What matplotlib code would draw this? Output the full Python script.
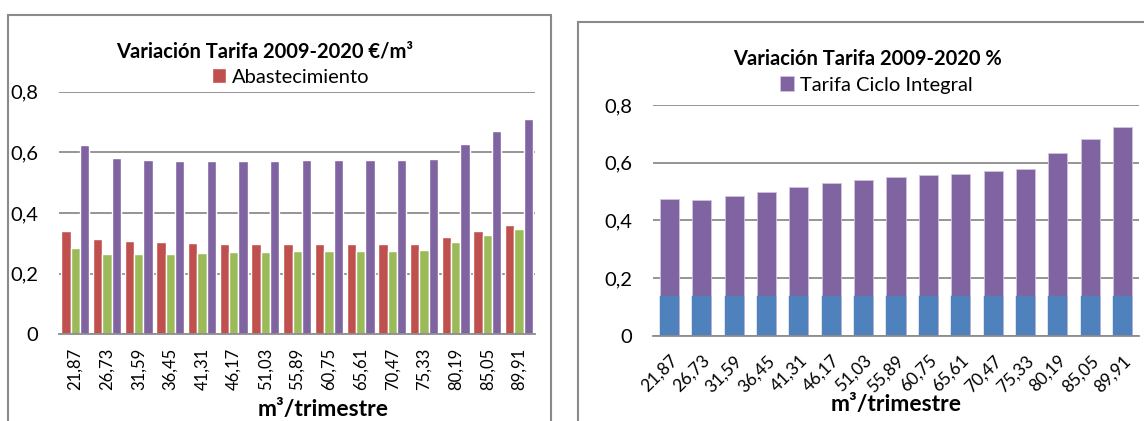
import matplotlib.pyplot as plt
from matplotlib.patches import Rectangle
import numpy as np

plt.rcParams.update({
    'font.family': ['Lato', 'DejaVu Sans'],
    'figure.dpi': 100,
    'savefig.dpi': 100,
})

# Data
consumo = ['21,87', '26,73', '31,59', '36,45', '41,31', '46,17', '51,03', '55,89',
           '60,75', '65,61', '70,47', '75,33', '80,19', '85,05', '89,91']

abastecimiento = [0.340, 0.315, 0.307, 0.303, 0.300, 0.299, 0.298, 0.297,
                  0.297, 0.297, 0.296, 0.297, 0.321, 0.342, 0.360]
saneamiento = [0.283, 0.266, 0.266, 0.266, 0.268, 0.270, 0.272, 0.274,
               0.275, 0.275, 0.276, 0.278, 0.304, 0.326, 0.347]
ciclo_integral = [0.625, 0.582, 0.573, 0.570, 0.570, 0.572, 0.572, 0.573,
                  0.573, 0.573, 0.574, 0.577, 0.627, 0.670, 0.710]

tarifa_ciclo_pct = [0.474, 0.470, 0.484, 0.499, 0.516, 0.530, 0.541, 0.549,
                    0.557, 0.562, 0.570, 0.578, 0.632, 0.681, 0.725]
base_pct = [0.138] * 15

yticks = [0, 0.2, 0.4, 0.6, 0.8]
ytick_labels = ['0', '0,2', '0,4', '0,6', '0,8']

RED = '#C0504D'
GREEN = '#9BBB59'
PURPLE = '#8064A2'
BLUE = '#4F81BD'
GRID = '#8C8C8C'

W, H = 1144, 421
fig = plt.figure(figsize=(W / 100, H / 100))

def px(x0, y0, x1, y1):
    # pixel box (top-left origin) -> figure fraction rect
    return [x0 / W, 1 - y1 / H, (x1 - x0) / W, (y1 - y0) / H]

def style_axis(ax):
    ax.set_ylim(0, 0.8)
    ax.set_xlim(-0.5, len(consumo) - 0.5)
    ax.set_yticks(yticks)
    ax.set_yticklabels(ytick_labels, fontsize=14.5)
    ax.yaxis.grid(True, color=GRID, linewidth=1.3)
    ax.set_axisbelow(True)
    for s in ['top', 'right', 'left']:
        ax.spines[s].set_visible(False)
    ax.spines['bottom'].set_color(GRID)
    ax.spines['bottom'].set_linewidth(1.3)
    ax.tick_params(axis='y', length=0, pad=15)
    ax.tick_params(axis='x', length=0)
    ax.set_xticks(np.arange(len(consumo)))

# frames around each chart
fig.add_artist(Rectangle((7.5 / W, -0.1), (551 - 7.5) / W, 1.1 - 15 / H,
                         transform=fig.transFigure, fill=False,
                         edgecolor='#8A8A8A', linewidth=1.5))
fig.add_artist(Rectangle((578 / W, -0.1), 0.5, 1.1 - 22 / H,
                         transform=fig.transFigure, fill=False,
                         edgecolor='#8A8A8A', linewidth=1.5))

# ---- left chart: grouped bars
ax1 = fig.add_axes(px(59.3, 91.5, 535, 334.3))
x = np.arange(len(consumo))
w = 0.293
b1 = ax1.bar(x - w, abastecimiento, w, color=RED, edgecolor='white', linewidth=1.0)
ax1.bar(x, saneamiento, w, color=GREEN, edgecolor='white', linewidth=1.0)
ax1.bar(x + w, ciclo_integral, w, color=PURPLE, edgecolor='white', linewidth=1.0)
style_axis(ax1)
ax1.set_xticklabels(consumo, rotation=90, fontsize=12, va='top')
ax1.tick_params(axis='x', pad=10)
ax1.set_xlabel('m³/trimestre', fontsize=16.5, fontweight='bold', va='center')
ax1.xaxis.set_label_coords(0.554, -0.31)

fig.text(265 / W, 1 - 52 / H, 'Variación Tarifa 2009-2020 €/m³', ha='center',
         va='center', fontsize=14.5, fontweight='bold')
fig.legend([b1], ['Abastecimiento'], loc='center',
           bbox_to_anchor=(291 / W, 1 - 77 / H), frameon=False, fontsize=14.5,
           handlelength=0.7, handleheight=0.7, handletextpad=0.3,
           borderpad=0, borderaxespad=0)

# ---- right chart: stacked bars
ax2 = fig.add_axes(px(653.3, 105, 1138.7, 335.7))
b2 = ax2.bar(x, tarifa_ciclo_pct, 0.59, color=PURPLE, edgecolor='#CFC3DD', linewidth=0.6)
ax2.bar(x, base_pct, 0.59, color=BLUE, edgecolor=BLUE, linewidth=0.3)
style_axis(ax2)
ax2.set_xticklabels(consumo, rotation=45, fontsize=12.5, ha='right', va='top',
                    rotation_mode='anchor')
ax2.tick_params(axis='x', pad=12)
ax2.set_xlabel('m³/trimestre', fontsize=16.5, fontweight='bold', va='center')
ax2.xaxis.set_label_coords(0.500, -0.30)

fig.text(867 / W, 1 - 59 / H, 'Variación Tarifa 2009-2020 %', ha='center',
         va='center', fontsize=14.5, fontweight='bold')
fig.legend([b2], ['Tarifa Ciclo Integral'], loc='center',
           bbox_to_anchor=(876 / W, 1 - 85 / H), frameon=False, fontsize=14.5,
           handlelength=0.7, handleheight=0.7, handletextpad=0.3,
           borderpad=0, borderaxespad=0)

fig.savefig('out.png', dpi=100)
